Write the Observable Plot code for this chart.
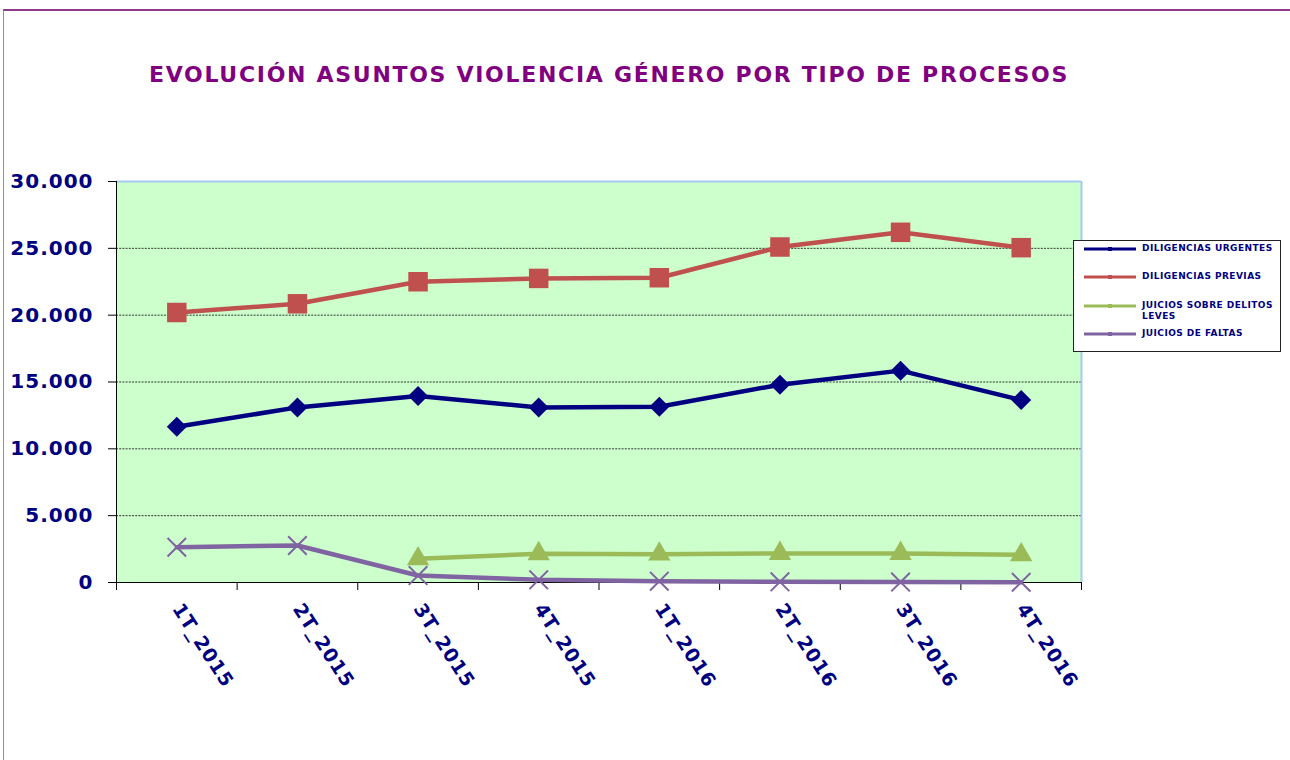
<!DOCTYPE html>
<html><head><meta charset="utf-8">
<script src="https://cdn.jsdelivr.net/npm/d3@7"></script>
<script src="https://cdn.jsdelivr.net/npm/@observablehq/plot@0.6"></script>
<style>
body{margin:0;background:#fff;}
#wrap{position:relative;width:1290px;height:760px;overflow:hidden;font-family:"DejaVu Sans",Verdana,sans-serif;}
#frame{position:absolute;left:3px;top:9px;right:-5px;bottom:-5px;border-top:2px solid #8E3B8E;border-left:1px solid #B378B3;pointer-events:none;}
#title{position:absolute;left:0;width:1218px;top:62px;text-align:center;color:#800080;font-weight:bold;font-size:22px;letter-spacing:1.7px;white-space:nowrap;}
#chart{position:absolute;left:0;top:0;}
#legend{position:absolute;left:1073px;top:240px;width:208px;height:112px;border:1px solid #222;background:#fff;box-sizing:border-box;}
.item{position:absolute;left:0;width:208px;}
.item svg{position:absolute;left:9px;top:-3px;}
.item span{position:absolute;left:68px;top:-6px;width:136px;color:#000080;font-weight:bold;font-size:9px;letter-spacing:0.45px;line-height:11px;}
</style></head>
<body><div id="wrap"><div id="chart"></div><div id="title">EVOLUCIÓN ASUNTOS VIOLENCIA GÉNERO POR TIPO DE PROCESOS</div><div id="legend"></div><div id="frame"></div></div>
<script>
const categories = ["1T_2015","2T_2015","3T_2015","4T_2015","1T_2016","2T_2016","3T_2016","4T_2016"];
const urgentes = [11650,13100,13950,13100,13150,14800,15850,13650];
const previas  = [20200,20850,22500,22750,22800,25100,26200,25050];
const leves    = [null,null,1770,2150,2120,2170,2170,2070];
const faltas   = [2640,2770,520,200,100,50,30,20];
const seriesNames = ["DILIGENCIAS URGENTES","DILIGENCIAS PREVIAS","JUICIOS SOBRE DELITOS LEVES","JUICIOS DE FALTAS"];
const seriesColors = ["#000080","#C0504D","#9BBB59","#8064A2"];
const yTicks = [0,5000,10000,15000,20000,25000,30000];
const gridTicks = [5000,10000,15000,20000,25000];

const seriesValues = [urgentes, previas, leves, faltas];
const rows = seriesValues.map((vals, s) => vals.map((v, i) => ({s: seriesNames[s], i, v})));
const fmt = d => d3.format(",")(d).replace(/,/g, ".");
const bounds = categories.map((_, i) => i - 0.5).concat([categories.length - 0.5]);

const symbols = [
  {symbol: "diamond2", r: 9, fill: seriesColors[0]},
  {symbol: "square", r: 11, fill: seriesColors[1]},
  {symbol: "triangle", r: 8.3, fill: seriesColors[2]},
  {symbol: "times", r: 8.5, stroke: seriesColors[3], strokeWidth: 2, fill: "none"}
];

const plot = Plot.plot({
  width: 1290, height: 760,
  marginLeft: 116, marginRight: 209, marginTop: 181, marginBottom: 178,
  x: {domain: [-0.5, categories.length - 0.5], label: null},
  y: {domain: [0, 30000], label: null},
  color: {domain: seriesNames, range: seriesColors},
  style: {fontFamily: "DejaVu Sans, Verdana, sans-serif", fontWeight: "bold", background: "transparent", overflow: "visible", letterSpacing: "1px"},
  marks: [
    Plot.frame({fill: "#CCFFCC", stroke: null}),
    Plot.gridY(gridTicks, {stroke: "#222", strokeOpacity: 0.9, strokeDasharray: "2,1.2"}),
    Plot.ruleY([30000], {stroke: "#A6CAF0", strokeWidth: 2}),
    Plot.ruleX([categories.length - 0.5], {stroke: "#A6CAF0", strokeWidth: 2}),
    Plot.ruleX([-0.5], {stroke: "#000"}),
    Plot.ruleY([0], {stroke: "#000"}),
    Plot.axisY({ticks: yTicks, tickSize: 8, tickFormat: () => "", color: "#000", label: null}),
    Plot.axisY({ticks: yTicks, tickSize: 0, tickPadding: 23, tickFormat: fmt, color: "#000080", fontSize: 20, fontWeight: "bold", label: null}),
    Plot.axisX({ticks: bounds, tickSize: 8, tickFormat: () => "", color: "#000", label: null}),
    Plot.axisX({ticks: categories.map((_, i) => i), tickSize: 0, tickPadding: 23, tickRotate: 57, tickFormat: i => categories[i], color: "#000080", fontSize: 19, fontWeight: "bold", label: null}),
    ...rows.map((r, s) => Plot.line(r, {x: "i", y: "v", stroke: "s", strokeWidth: 4.5})),
    ...rows.map((r, s) => Plot.dot(r.filter(d => d.v != null), {x: "i", y: "v", ...symbols[s]}))
  ]
});
document.getElementById("chart").appendChild(plot);

const legend = document.getElementById("legend");
const legendTops = [8, 36, 65, 93];
seriesNames.forEach((name, s) => {
  const it = document.createElement("div");
  it.className = "item";
  it.style.top = legendTops[s] + "px";
  it.innerHTML = `<svg width="54" height="6"><line x1="1" y1="3" x2="53" y2="3" stroke="${seriesColors[s]}" stroke-width="3"/><rect x="25" y="1" width="4" height="4" fill="${seriesColors[s]}"/></svg><span>${name}</span>`;
  legend.appendChild(it);
});
</script>
</body></html>
